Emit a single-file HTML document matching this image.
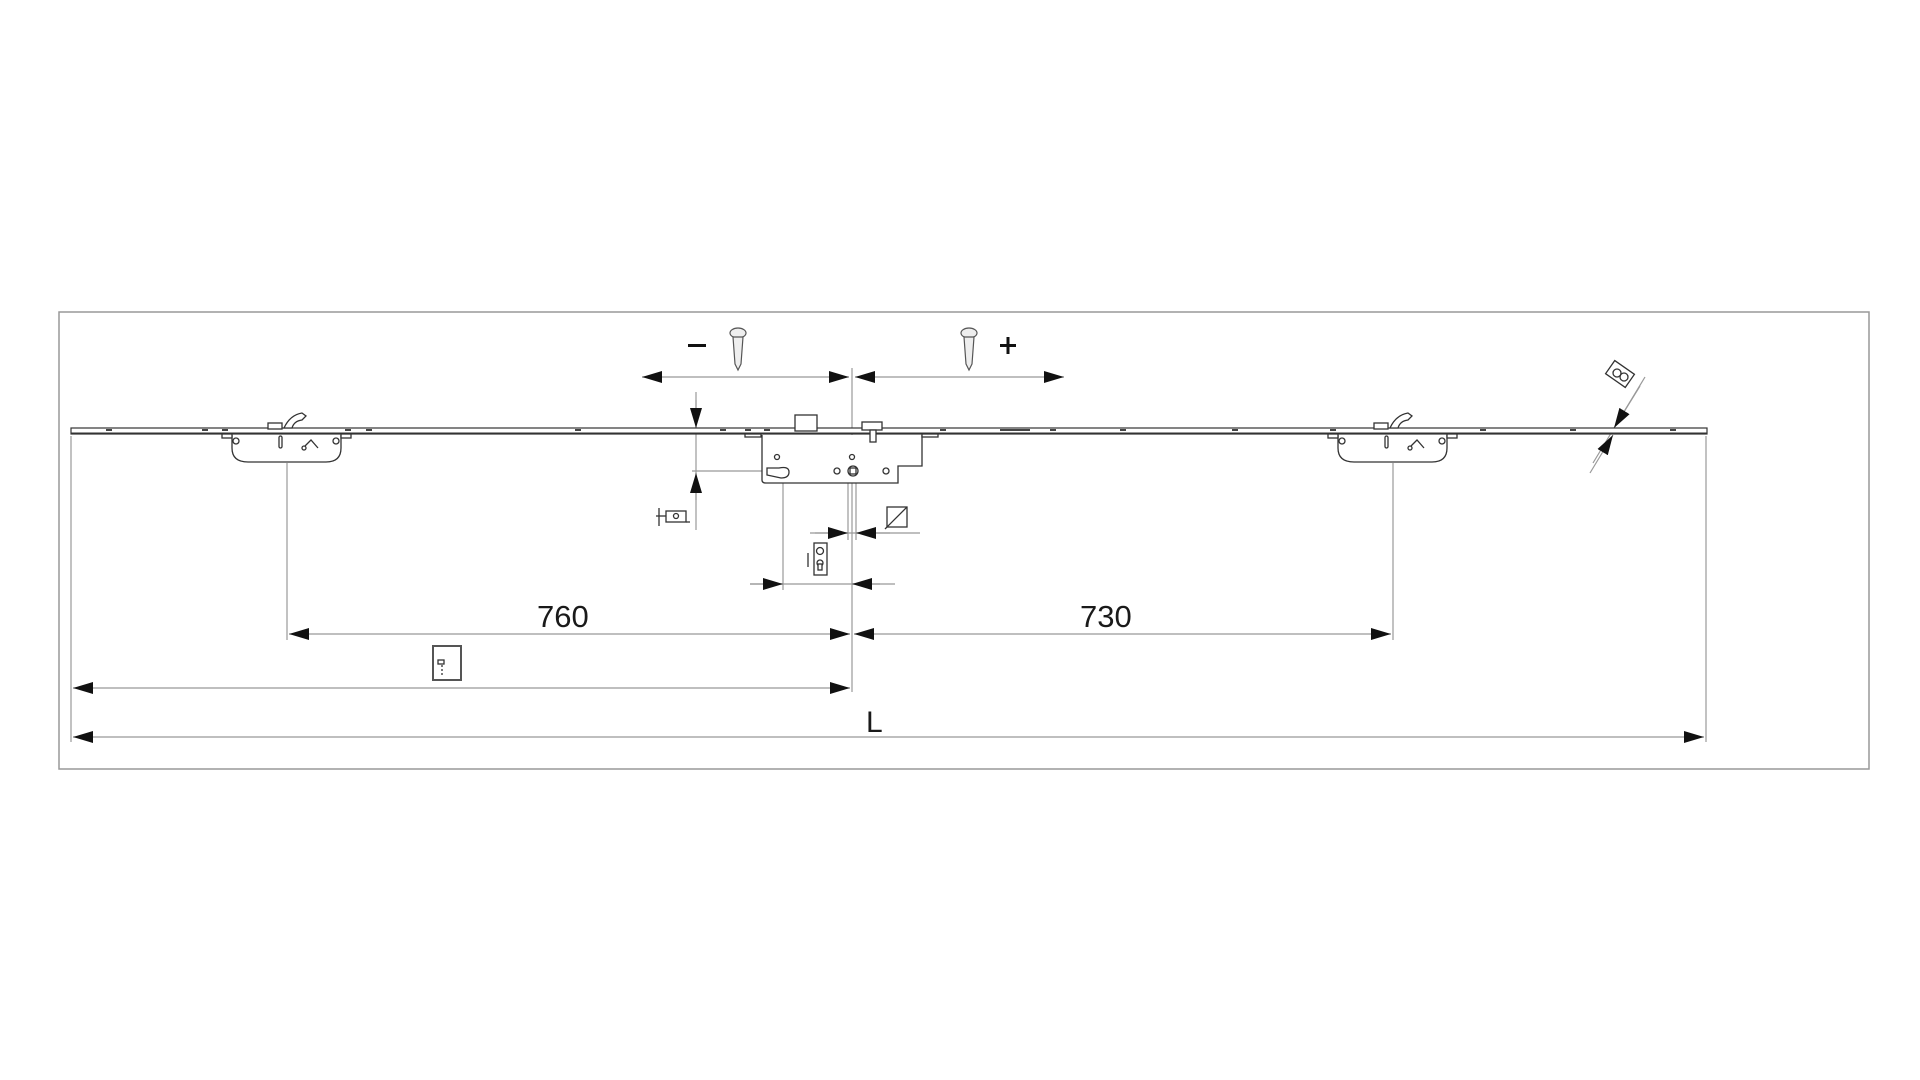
<!DOCTYPE html>
<html><head><meta charset="utf-8"><style>
html,body{margin:0;padding:0;background:#fff;}
svg{display:block;}
text{font-family:"Liberation Sans",sans-serif;fill:#1a1a1a;}
</style></head><body>
<svg width="1920" height="1080" viewBox="0 0 1920 1080" xmlns="http://www.w3.org/2000/svg">
<defs>
<marker id="a" viewBox="0 0 20 12" refX="20" refY="6" markerWidth="20" markerHeight="12" markerUnits="userSpaceOnUse" orient="auto-start-reverse"><path d="M0,0 L20,6 L0,12 z" fill="#111"/></marker>
</defs>
<rect x="59" y="312" width="1810" height="457" fill="none" stroke="#999" stroke-width="1.5"/>
<g stroke="#999" stroke-width="1.2" fill="none">
<line x1="71" y1="436" x2="71" y2="742"/>
<line x1="1706" y1="436" x2="1706" y2="742"/>
<line x1="287" y1="463" x2="287" y2="640"/>
<line x1="1393" y1="463" x2="1393" y2="640"/>
<line x1="852" y1="368" x2="852" y2="692"/>
<line x1="696" y1="392" x2="696" y2="530"/>
<line x1="692" y1="471" x2="770" y2="471"/>
<line x1="783" y1="483" x2="783" y2="590"/>
<line x1="848" y1="483" x2="848" y2="540"/>
<line x1="856" y1="483" x2="856" y2="540"/>
<line x1="1645" y1="377" x2="1593" y2="463"/>
<line x1="810" y1="533" x2="920" y2="533"/>
<line x1="750" y1="584" x2="895" y2="584"/>
</g>
<g stroke="#999" stroke-width="1.2" fill="none">
<line x1="642" y1="377" x2="849" y2="377" marker-start="url(#a)" marker-end="url(#a)"/>
<line x1="855" y1="377" x2="1064" y2="377" marker-start="url(#a)" marker-end="url(#a)"/>
<line x1="696" y1="400" x2="696" y2="428" marker-end="url(#a)"/>
<line x1="696" y1="500" x2="696" y2="473" marker-end="url(#a)"/>
<line x1="815" y1="533" x2="848" y2="533" marker-end="url(#a)"/>
<line x1="890" y1="533" x2="856" y2="533" marker-end="url(#a)"/>
<line x1="750" y1="584" x2="783" y2="584" marker-end="url(#a)"/>
<line x1="880" y1="584" x2="852" y2="584" marker-end="url(#a)"/>
<line x1="289" y1="634" x2="850" y2="634" marker-start="url(#a)" marker-end="url(#a)"/>
<line x1="854" y1="634" x2="1391" y2="634" marker-start="url(#a)" marker-end="url(#a)"/>
<line x1="73" y1="688" x2="850" y2="688" marker-start="url(#a)" marker-end="url(#a)"/>
<line x1="73" y1="737" x2="1704" y2="737" marker-start="url(#a)" marker-end="url(#a)"/>
<line x1="1640" y1="386" x2="1614" y2="428" marker-end="url(#a)"/>
<line x1="1590" y1="473" x2="1613" y2="435" marker-end="url(#a)"/>
</g>
<!-- bar -->
<rect x="71" y="428" width="1636" height="6" fill="#fff" stroke="#333" stroke-width="1.2"/>
<line x1="71" y1="433" x2="1707" y2="433" stroke="#333" stroke-width="1"/>
<g fill="#444">
<rect x="106" y="429" width="6" height="2"/><rect x="202" y="429" width="6" height="2"/><rect x="222" y="429" width="6" height="2"/>
<rect x="345" y="429" width="6" height="2"/><rect x="366" y="429" width="6" height="2"/><rect x="575" y="429" width="6" height="2"/>
<rect x="720" y="429" width="6" height="2"/><rect x="745" y="429" width="6" height="2"/><rect x="764" y="429" width="6" height="2"/>
<rect x="940" y="429" width="6" height="2"/><rect x="1000" y="429" width="30" height="2"/><rect x="1050" y="429" width="6" height="2"/>
<rect x="1120" y="429" width="6" height="2"/><rect x="1232" y="429" width="6" height="2"/><rect x="1330" y="429" width="6" height="2"/>
<rect x="1480" y="429" width="6" height="2"/><rect x="1570" y="429" width="6" height="2"/><rect x="1670" y="429" width="6" height="2"/>
</g>
<!-- keepers -->
<g id="k" stroke="#333" stroke-width="1.3" fill="#fff">
<path d="M232,435 L232,448 Q232,462 248,462 L326,462 Q341,462 341,448 L341,435"/>
<rect x="222" y="434" width="10" height="4"/><rect x="341" y="434" width="10" height="4"/>
<circle cx="236" cy="441" r="3"/><circle cx="336" cy="441" r="3"/>
<rect x="279" y="436" width="3" height="12" rx="1.5"/>
<path d="M305,446 L311,440 L318,448" fill="none"/><circle cx="304" cy="448" r="2"/>
<rect x="268" y="423" width="14" height="6"/>
<path d="M284,428 Q290,415 302,413 L306,416 L302,420 Q294,421 292,428 z"/>
</g>
<use href="#k" x="1106"/>
<!-- lock case -->
<g stroke="#333" stroke-width="1.3" fill="#fff">
<path d="M762,435 L762,480 Q762,483 766,483 L898,483 L898,466 L922,466 L922,435"/>
<rect x="795" y="415" width="22" height="16"/>
<rect x="862" y="422" width="20" height="8"/><rect x="870" y="430" width="6" height="12"/>
<rect x="745" y="434" width="16" height="3"/><rect x="922" y="434" width="16" height="3"/>
<circle cx="777" cy="457" r="2.5"/><circle cx="852" cy="457" r="2.5"/>
<circle cx="837" cy="471" r="3"/><circle cx="886" cy="471" r="3"/>
<circle cx="853" cy="471" r="5"/><rect x="850" y="468" width="6" height="6"/>
<path d="M767,468 L779,468 Q789,466 789,472 Q789,478 781,478 L767,475 z"/>
</g>
<!-- screws -->
<g stroke="#555" stroke-width="1.2" fill="#eee">
<ellipse cx="738" cy="333" rx="8" ry="5"/><path d="M733,337 L743,337 L741,364 L738,370 L735,364 z"/>
<ellipse cx="969" cy="333" rx="8" ry="5"/><path d="M964,337 L974,337 L972,364 L969,370 L966,364 z"/>
</g>
<rect x="688" y="344" width="18" height="3" fill="#111"/>
<rect x="1000" y="344" width="16" height="3" fill="#111"/><rect x="1006.5" y="337" width="3" height="17" fill="#111"/>
<!-- small icons -->
<g stroke="#333" stroke-width="1.3" fill="#fff">
<rect x="666" y="511" width="20" height="11"/><circle cx="676" cy="516" r="2.5"/><line x1="656" y1="516" x2="666" y2="516"/><line x1="659" y1="508" x2="659" y2="526"/><line x1="686" y1="522" x2="690" y2="522"/>
<rect x="887" y="507" width="20" height="20"/><line x1="885" y1="529" x2="907" y2="507"/>
<rect x="814" y="543" width="13" height="32"/><circle cx="820" cy="551" r="3.5"/><circle cx="820" cy="563" r="3"/><rect x="818" y="564" width="4" height="6"/>
<line x1="808" y1="553" x2="808" y2="567"/>
<rect x="433" y="646" width="28" height="34" stroke-width="2" stroke="#555"/>
<rect x="438" y="660" width="6" height="4"/><line x1="442" y1="665" x2="442" y2="676" stroke-dasharray="2,2"/>
<rect x="1608" y="366" width="24" height="16" transform="rotate(35 1620 374)"/>
<circle cx="1617" cy="373" r="4"/><circle cx="1624" cy="377" r="4"/>
</g>
<text x="537" y="627" font-size="31">760</text>
<text x="1080" y="627" font-size="31">730</text>
<text x="866" y="732" font-size="30">L</text>
</svg>
</body></html>
